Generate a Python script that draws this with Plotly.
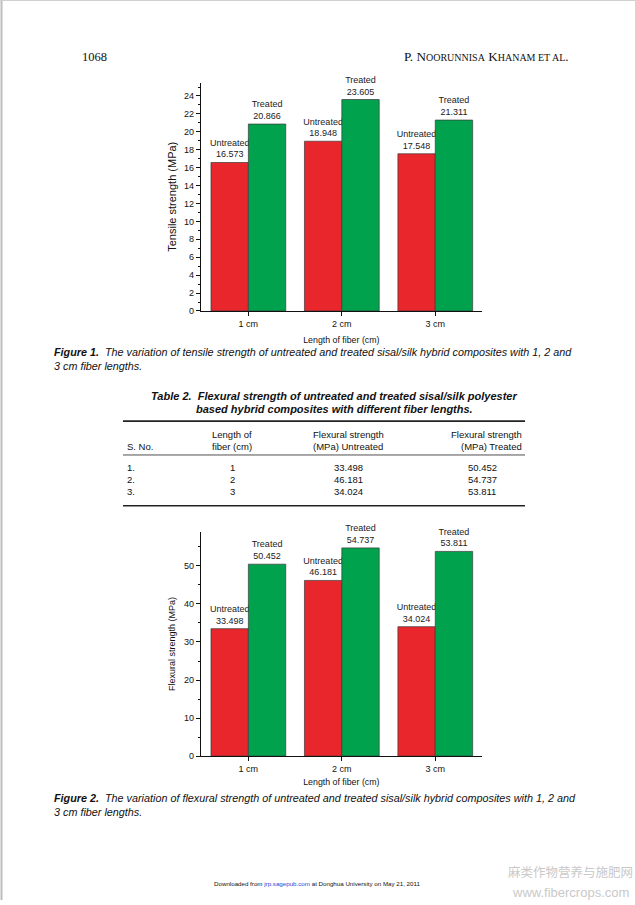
import plotly.graph_objects as go

# ---------------- data ----------------
categories = ["1 cm", "2 cm", "3 cm"]
tensile_untreated = [16.573, 18.948, 17.548]
tensile_treated = [20.866, 23.605, 21.311]
flexural_untreated = [33.498, 46.181, 34.024]
flexural_treated = [50.452, 54.737, 53.811]
table_sno = ["1.", "2.", "3."]
table_length = ["1", "2", "3"]

W, H = 635, 905
RED = "#E8262B"
GREEN = "#00A24E"
SANS = "Liberation Sans, Arial, sans-serif"
SERIF = "Liberation Serif, Times New Roman, serif"


def X(px):
    return px / W


def Y(py):
    return 1 - py / H


fig = go.Figure()


def add_pair(unt, tre, xa, ya):
    fig.add_trace(go.Bar(
        x=categories, y=unt, xaxis=xa, yaxis=ya,
        marker=dict(color=RED, line=dict(color="#3a3a3a", width=0.7)),
        text=[f"Untreated<br>{v:.3f}" for v in unt],
        textposition="outside", constraintext="none", cliponaxis=False,
        textfont=dict(family=SANS, size=9, color="#222"),
        showlegend=False, hoverinfo="skip"))
    fig.add_trace(go.Bar(
        x=categories, y=tre, xaxis=xa, yaxis=ya,
        marker=dict(color=GREEN, line=dict(color="#3a3a3a", width=0.7)),
        text=[f"Treated<br>{v:.3f}" for v in tre],
        textposition="outside", constraintext="none", cliponaxis=False,
        textfont=dict(family=SANS, size=9, color="#222"),
        showlegend=False, hoverinfo="skip"))


add_pair(tensile_untreated, tensile_treated, "x", "y")
add_pair(flexural_untreated, flexural_treated, "x2", "y2")

xcommon = dict(
    showline=True, linecolor="#111", linewidth=1, ticks="outside", ticklen=4,
    tickcolor="#111", showgrid=False, zeroline=False, range=[-0.51, 2.5],
    tickfont=dict(family=SANS, size=9, color="#111"), fixedrange=True,
)
ycommon = dict(
    showline=True, linecolor="#111", linewidth=1, ticks="outside", ticklen=4,
    tickcolor="#111", showgrid=False, zeroline=False,
    tickfont=dict(family=SANS, size=9, color="#111"), fixedrange=True,
)

fig.update_layout(
    width=W, height=H,
    margin=dict(l=0, r=0, t=0, b=0),
    paper_bgcolor="white", plot_bgcolor="white",
    barmode="group", bargap=0.2, bargroupgap=0,
    font=dict(family=SANS, color="#111"),
    xaxis=dict(domain=[X(200.7), X(482)], anchor="y",
               title=dict(text="Length of fiber (cm)", font=dict(size=8.8), standoff=9),
               **xcommon),
    yaxis=dict(domain=[Y(312.7), Y(83)], anchor="x", range=[0, 25.5],
               dtick=2, tick0=0,
               minor=dict(dtick=1, ticks="outside", ticklen=2, tickcolor="#111"),
               title=dict(text="Tensile strength (MPa)", font=dict(size=11), standoff=5),
               **ycommon),
    xaxis2=dict(domain=[X(200.7), X(482)], anchor="y2",
                title=dict(text="Length of fiber (cm)", font=dict(size=8.8), standoff=5),
                **xcommon),
    yaxis2=dict(domain=[Y(760.3), Y(535)], anchor="x2", range=[0, 58.9],
                dtick=10, tick0=0,
                minor=dict(dtick=5, ticks="outside", ticklen=2, tickcolor="#111"),
                title=dict(text="Flexural strength (MPa)", font=dict(size=9), standoff=6),
                **ycommon),
)

ann = []


def text(px, py, s, size=10, family=SANS, xanchor="left", yanchor="middle",
         color="#111", align="left"):
    ann.append(dict(x=X(px), y=Y(py), xref="paper", yref="paper", text=s,
                    showarrow=False, xanchor=xanchor, yanchor=yanchor,
                    align=align, font=dict(family=family, size=size, color=color)))


# header
text(80, 57, "1068", size=12.5, family=SERIF)
sm = "font-size:10px"
text(571, 57, f"P. N<span style='{sm}'>OORUNNISA</span> K<span style='{sm}'>HANAM ET AL</span>.",
     size=13.2, family=SERIF, xanchor="right")

# captions
text(52, 346, "<b><i>Figure 1.</i></b><i>  The variation of tensile strength of untreated and treated "
     "sisal/silk hybrid composites with 1, 2 and<br>3 cm fiber lengths.</i>",
     size=10.8, yanchor="top")
text(52, 794, "<b><i>Figure 2.</i></b><i>  The variation of flexural strength of untreated and treated "
     "sisal/silk hybrid composites with 1, 2 and<br>3 cm fiber lengths.</i>",
     size=10.8, yanchor="top")

# table title
text(334, 398, "<b><i>Table 2.  Flexural strength of untreated and treated sisal/silk polyester</i></b>",
     size=11, xanchor="center")
text(334, 411, "<b><i>based hybrid composites with different fiber lengths.</i></b>",
     size=11, xanchor="center")

# table header
hs = 9.5
text(125, 449, "S. No.", size=hs)
text(232, 437, "Length of", size=hs, xanchor="center")
text(232, 449, "fiber (cm)", size=hs, xanchor="center")
text(348, 437, "Flexural strength", size=hs, xanchor="center")
text(348, 449, "(MPa) Untreated", size=hs, xanchor="center")
text(524, 437, "Flexural strength", size=hs, xanchor="right")
text(524, 449, "(MPa) Treated", size=hs, xanchor="right")

row_y = [470, 482, 494]
for i in range(3):
    text(125, row_y[i], table_sno[i], size=hs)
    text(232, row_y[i], table_length[i], size=hs, xanchor="center")
    text(348, row_y[i], f"{flexural_untreated[i]:.3f}", size=hs, xanchor="center")
    text(482, row_y[i], f"{flexural_treated[i]:.3f}", size=hs, xanchor="center")

# footer
text(212, 888, "Downloaded from <span style='color:#2b3fd6'>jrp.sagepub.com</span> at Donghua "
     "University on May 21, 2011", size=6.2)

# watermark
text(570, 888, "麻类作物营养与施肥网", size=12.5, family="Noto Sans CJK SC",
     xanchor="center", yanchor="bottom", color="#c9c9c9")
text(570, 888, "www.fibercrops.com", size=13, family=SANS,
     xanchor="center", yanchor="top", color="#c9c9c9")

fig.update_layout(annotations=ann)

shapes = []


def hline(y, x0, x1, w):
    shapes.append(dict(type="line", xref="paper", yref="paper",
                       x0=X(x0), x1=X(x1), y0=Y(y), y1=Y(y),
                       line=dict(color="#222", width=w)))


hline(423.5, 123, 525, 1.6)
hline(457.5, 123, 525, 0.8)
hline(508.5, 123, 525, 1.6)
# page border
shapes.append(dict(type="line", xref="paper", yref="paper", x0=X(1.5), x1=X(1.5),
                   y0=0, y1=1, line=dict(color="#bdbdbd", width=2)))
shapes.append(dict(type="line", xref="paper", yref="paper", x0=0, x1=1,
                   y0=Y(0.5), y1=Y(0.5), line=dict(color="#d0d0d0", width=1)))
fig.update_layout(shapes=shapes)

fig.write_html("out.html", config={"displayModeBar": False},
               post_script="document.body.style.margin='0';document.body.style.overflow='hidden';")
